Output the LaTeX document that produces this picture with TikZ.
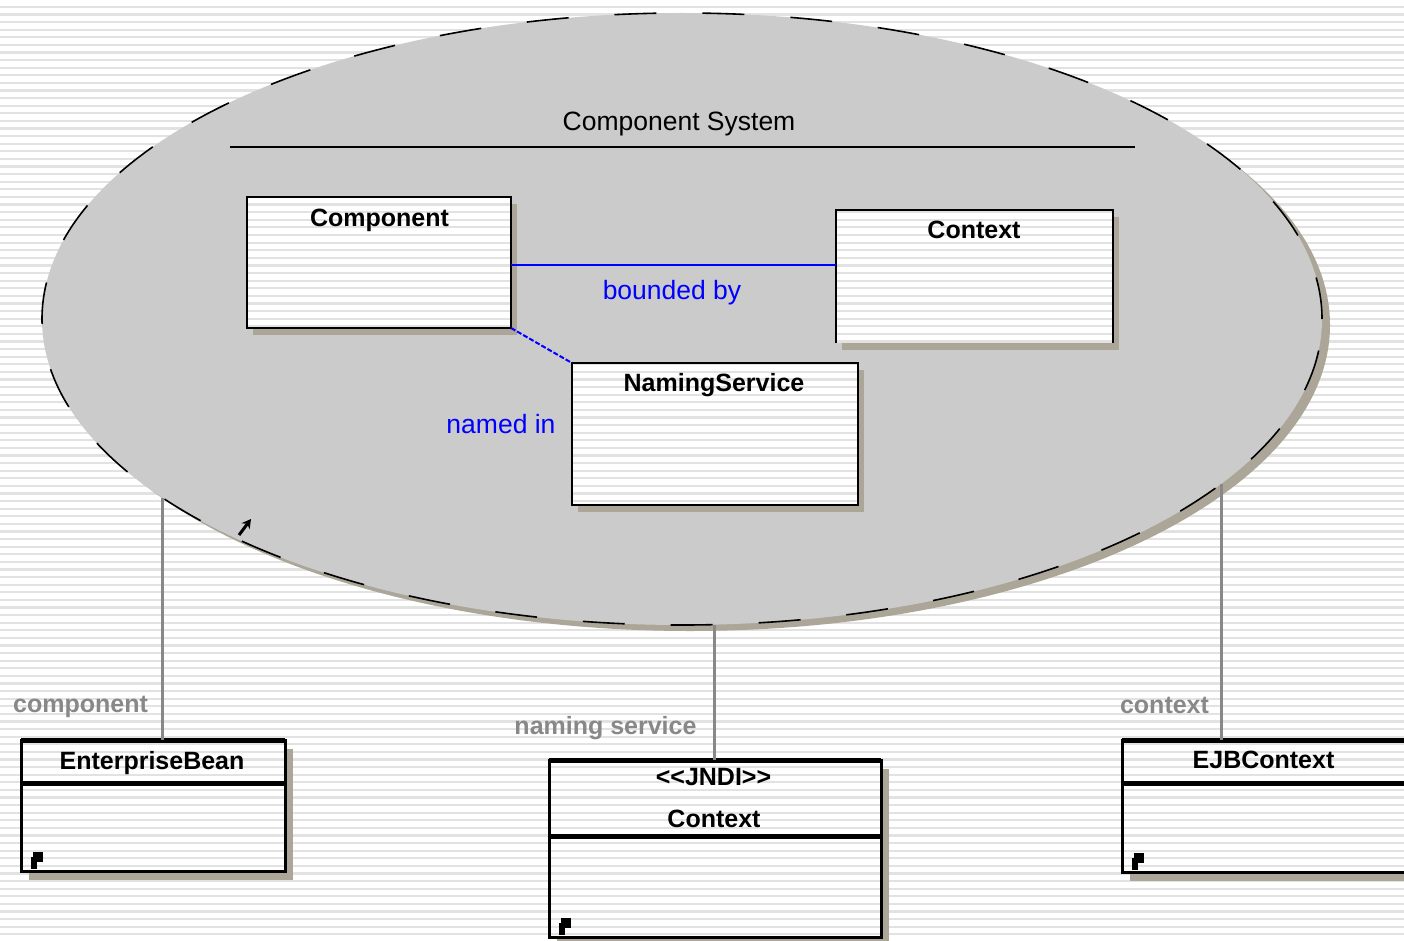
\documentclass[tikz,border=0pt]{standalone}
\usepackage{fontspec}
\setmainfont{Liberation Sans}
\usetikzlibrary{shapes.geometric,arrows.meta,shadows}
\definecolor{ellgray}{RGB}{203,203,203}
\definecolor{shadowc}{RGB}{171,166,152}
\definecolor{stripec}{RGB}{226,226,226}
\definecolor{connc}{RGB}{136,136,136}
\definecolor{linkblue}{RGB}{0,0,255}
\tikzset{
  stripe/.style={stripec, line width=2.2pt},
  classbox/.style={rectangle, inner sep=0pt, outer sep=0pt, fill=white},
  upshadow/.style={drop shadow={shadow xshift=6pt, shadow yshift=-7pt, fill=shadowc, opacity=1}},
  lowshadow/.style={drop shadow={shadow xshift=8pt, shadow yshift=-9pt, fill=shadowc, opacity=1}},
  title/.style={font=\bfseries\fontsize{25}{28}\selectfont, inner sep=0pt, anchor=base},
  rolelabel/.style={font=\bfseries\fontsize{25}{28}\selectfont, text=connc, inner sep=0pt, anchor=base},
  assoclabel/.style={font=\fontsize{26.5}{30}\selectfont, text=linkblue, inner sep=0pt, anchor=base},
  conn/.style={connc, line width=3pt},
  assoc/.style={linkblue, line width=2pt},
  sysellipse/.style={ellipse, inner sep=0pt, outer sep=0pt, minimum width=1280pt, minimum height=612pt},
}
\newcommand\stripesin[1]{%
  \begin{scope}
    \clip (#1.north west) rectangle (#1.south east);
    \foreach \i in {0,...,124} \draw[stripe] (0,7+7.6*\i) -- (1404,7+7.6*\i);
  \end{scope}}
\newcommand\cornermark[1]{%
  \fill[shift={(#1.south west)}] (12,-19) rectangle (22,-9);
  \fill[shift={(#1.south west)}] (10,-14) rectangle (16,-2);}
\newcommand\lowframe[2]{%
  \draw[line width=3pt] (#1.north west) rectangle (#1.south east);
  \draw[line width=5pt] (#1.north west) -- (#1.north east);
  \draw[line width=5pt] (#1.west |- 0,#2) -- (#1.east |- 0,#2);}
\begin{document}
\begin{tikzpicture}[x=1pt,y=-1pt]
\useasboundingbox (0,0) rectangle (1404,941);
\fill[white] (0,0) rectangle (1404,941);
\foreach \i in {0,...,124} \draw[stripe] (0,7+7.6*\i) -- (1404,7+7.6*\i);

% component system ellipse
\node[sysellipse, fill=shadowc] (sysshadow) at (690,325) {};
\node[sysellipse, fill=ellgray, draw=black, line width=1.6pt, dash pattern=on 42pt off 46pt] (sys) at (682,319) {};
\node[font=\fontsize{26.5}{30}\selectfont, inner sep=0pt, anchor=base] (systitle) at (679,131) {Component System};
\coordinate (sepL) at (230,147);
\coordinate (sepR) at (1135,147);
\draw[line width=1.5pt] (sepL) -- (sepR);

% upper classes
\node[classbox, upshadow, minimum width=264pt, minimum height=131pt] (comp) at (379,262.5) {};
\node[classbox, upshadow, minimum width=277pt, minimum height=133pt] (ctx) at (974.5,276.5) {};
\node[classbox, upshadow, minimum width=286pt, minimum height=142pt] (ns) at (715,434) {};
\stripesin{comp}
\stripesin{ctx}
\stripesin{ns}
\draw[line width=2.5pt] (comp.north west) rectangle (comp.south east);
\draw[line width=2.5pt] (ctx.south west) -- (ctx.north west) -- (ctx.north east) -- (ctx.south east);
\draw[line width=2.5pt] (ns.north west) rectangle (ns.south east);
\node[title] (compT) at (379.5,226) {Component};
\node[title] (ctxT) at (974,239) {Context};
\node[title] (nsT) at (714,391) {NamingService};

% associations
\draw[assoc] ([yshift=-2.5pt]comp.east) -- ([yshift=-2.5pt]comp.east -| ctx.west);
\node[assoclabel] (bounded) at (672,299) {bounded by};
\draw[assoc, dash pattern=on 5pt off 2pt] (comp.south east) -- (ns.north west);
\node[assoclabel] (named) at (501,433) {named in};

% small arrow glyph
\coordinate (glyphA) at (239,535);
\coordinate (glyphB) at (251,519);
\draw[-{Stealth[length=9pt,width=10pt]}, line width=3pt] (glyphA) -- (glyphB);

% lower classes
\node[classbox, lowshadow, minimum width=264pt, minimum height=131pt] (eb) at (153,805.5) {};
\node[classbox, lowshadow, minimum width=332pt, minimum height=177pt] (jndi) at (715,848.5) {};
\node[classbox, lowshadow, minimum width=308pt, minimum height=132pt] (ejb) at (1276,806) {};
\stripesin{eb}
\stripesin{jndi}
\stripesin{ejb}
\lowframe{eb}{783}
\lowframe{jndi}{836}
\lowframe{ejb}{783}
\cornermark{eb}
\cornermark{jndi}
\cornermark{ejb}
\node[title] (ebT) at (152,769) {EnterpriseBean};
\node[title] (jndiS) at (713.5,785) {{<}{<}JNDI{>}{>}};
\node[title] (jndiT) at (714,827) {Context};
\node[title] (ejbT) at (1263.5,768) {EJBContext};

% connectors
\draw[conn] (sys.199.5) -- (sys.199.5 |- eb.north);
\draw[conn] (sys.276.2) -- (sys.276.2 |- jndi.north);
\draw[conn] (sys.343.1) -- (sys.343.1 |- ejb.north);
\node[rolelabel] (roleC) at (80.5,712) {component};
\node[rolelabel] (roleN) at (605.5,734) {naming service};
\node[rolelabel] (roleX) at (1164.5,713) {context};
\end{tikzpicture}
\end{document}
